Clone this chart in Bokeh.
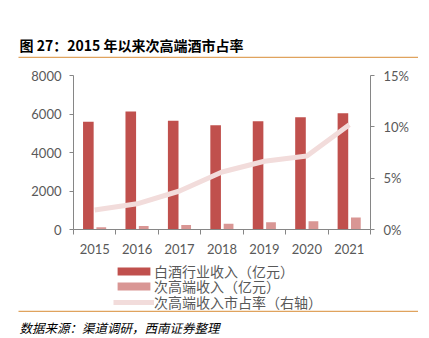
from bokeh.plotting import figure
from bokeh.layouts import column
from bokeh.models import (Range1d, LinearAxis, FixedTicker, NumeralTickFormatter,
                          Legend, LegendItem, Label, ColumnDataSource)
from bokeh.transform import dodge
from bokeh.embed import file_html
from bokeh.resources import INLINE

# ---- data ----
years = [2015, 2016, 2017, 2018, 2019, 2020, 2021]
baijiu_revenue = [5600, 6126, 5654, 5420, 5618, 5836, 6033]
sub_high_revenue = [120, 185, 240, 305, 375, 430, 620]
sub_high_share = [0.019, 0.025, 0.0375, 0.056, 0.0665, 0.0715, 0.102]
left_ticks = [0, 2000, 4000, 6000, 8000]
right_ticks = [0, 0.05, 0.10, 0.15]
title_text = "图 27：2015 年以来次高端酒市占率"
source_text = "数据来源：渠道调研，西南证券整理"
legend_labels = ["白酒行业收入（亿元）", "次高端收入（亿元）", "次高端收入市占率（右轴）"]

src = ColumnDataSource(dict(year=years, total=baijiu_revenue, sub=sub_high_revenue, share=sub_high_share))

W = 429
GRAY = "#595959"
AXIS = "#868686"
RULE = "#E0A35E"
C1, C2, C3 = "#C0504D", "#D99694", "#F2DCDB"
CJK = "'Noto Sans CJK SC', sans-serif"
NUM = "Lato, 'Noto Sans CJK SC', sans-serif"


def blank(h):
    # frame covers the whole strip: data x == canvas px, data y counts up from the strip bottom
    f = figure(width=W, height=h, x_range=Range1d(0, W), y_range=Range1d(0, h),
               x_axis_location=None, y_axis_location=None, min_border=0,
               output_backend="svg", toolbar_location=None, frame_align=False)
    f.grid.visible = False
    f.outline_line_color = None
    return f


def style_legend(lgd):
    lgd.label_standoff = 0
    lgd.spacing = 0
    lgd.padding = 0
    lgd.margin = 0
    lgd.border_line_color = None
    lgd.background_fill_alpha = 0
    lgd.inactive_fill_alpha = 0


def add_rule(f, y):
    # orange horizontal rule from x=18 to x=418, drawn as a legend line swatch
    proxy = f.line(x="year", y="share", source=src, line_color=RULE, line_width=1.6, visible=False)
    lgd = Legend(items=[LegendItem(label=" ", renderers=[proxy])], location=(18, y - 1))
    style_legend(lgd)
    lgd.glyph_width = 400
    lgd.glyph_height = 2
    lgd.label_height = 2
    lgd.label_width = 0
    lgd.label_text_font_size = "1px"
    lgd.label_text_alpha = 0
    f.add_layout(lgd, "center")


# ---- header ----
TOP_H = 60
top = blank(TOP_H)
top.add_layout(Label(x=19, y=TOP_H - 44, text=title_text, text_font=CJK, text_font_size="14px",
                     text_font_style="bold", text_color="black", text_baseline="middle"))
add_rule(top, TOP_H - 57)

# ---- main chart ----
MAIN_H = 201
p = figure(width=W, height=MAIN_H, x_range=Range1d(2014.5, 2021.5), y_range=Range1d(0, 8000),
           min_border_left=73, min_border_right=59, min_border_top=15, min_border_bottom=32,
           output_backend="svg", toolbar_location=None, frame_align=False)
p.grid.visible = False
p.outline_line_color = None

p.vbar(x=dodge("year", -0.15, range=p.x_range), top="total", width=0.25, source=src,
       fill_color=C1, line_color=None)
p.vbar(x=dodge("year", 0.155, range=p.x_range), top="sub", width=0.23, source=src,
       fill_color=C2, line_color=None)
p.extra_y_ranges = {"pct": Range1d(0, 0.15)}
p.line(x="year", y="share", source=src, y_range_name="pct", line_width=5, line_color=C3)

xa = p.xaxis[0]
xa.ticker = FixedTicker(ticks=years, minor_ticks=[y - 0.5 for y in years] + [years[-1] + 0.5])
xa.major_tick_out = 0
xa.major_tick_in = 0
xa.minor_tick_out = 5
xa.minor_tick_in = 0
xa.major_label_standoff = 9

ya = p.yaxis[0]
ya.ticker = FixedTicker(ticks=left_ticks)
ya.major_tick_out = 4
ya.major_tick_in = 0
ya.minor_tick_out = 0
ya.minor_tick_in = 0
ya.major_label_standoff = 8

ra = LinearAxis(y_range_name="pct", ticker=FixedTicker(ticks=right_ticks),
                formatter=NumeralTickFormatter(format="0%"))
ra.major_tick_out = 4
ra.major_tick_in = 0
ra.minor_tick_out = 0
ra.minor_tick_in = 0
ra.major_label_standoff = 9
p.add_layout(ra, "right")

for ax in (xa, ya, ra):
    ax.axis_line_color = AXIS
    ax.major_tick_line_color = AXIS
    ax.minor_tick_line_color = AXIS
    ax.major_label_text_color = GRAY
    ax.major_label_text_font = NUM
    ax.major_label_text_font_size = "13px"

# ---- bottom strip: legend, rule, source ----
BOT_H = 77
bot = blank(BOT_H)
k1 = bot.vbar(x="year", top="total", width=0.25, source=src, fill_color=C1, line_color=None, visible=False)
k2 = bot.vbar(x="year", top="sub", width=0.23, source=src, fill_color=C2, line_color=None, visible=False)
k3 = bot.line(x="year", y="share", source=src, line_width=5, line_color=C3, visible=False)

ROW_H = 21
row_centres = [68, 52.5, 37]
for rend, lab, yc in zip((k1, k2, k3), legend_labels, row_centres):
    lgd = Legend(items=[LegendItem(label=lab, renderers=[rend])],
                 location=(113, yc - ROW_H / 2), orientation="vertical")
    style_legend(lgd)
    lgd.glyph_width = 41
    lgd.glyph_height = 10
    lgd.label_height = 15
    lgd.label_text_font = CJK
    lgd.label_text_font_size = "14px"
    lgd.label_text_color = GRAY
    bot.add_layout(lgd, "center")

add_rule(bot, BOT_H - 50)
bot.add_layout(Label(x=19, y=BOT_H - 66, text=source_text, text_font=CJK, text_font_size="12.5px",
                     text_font_style="italic", text_color="black", text_baseline="middle"))

layout = column(top, p, bot, spacing=0)
open("out.html", "w").write(file_html(layout, INLINE))
